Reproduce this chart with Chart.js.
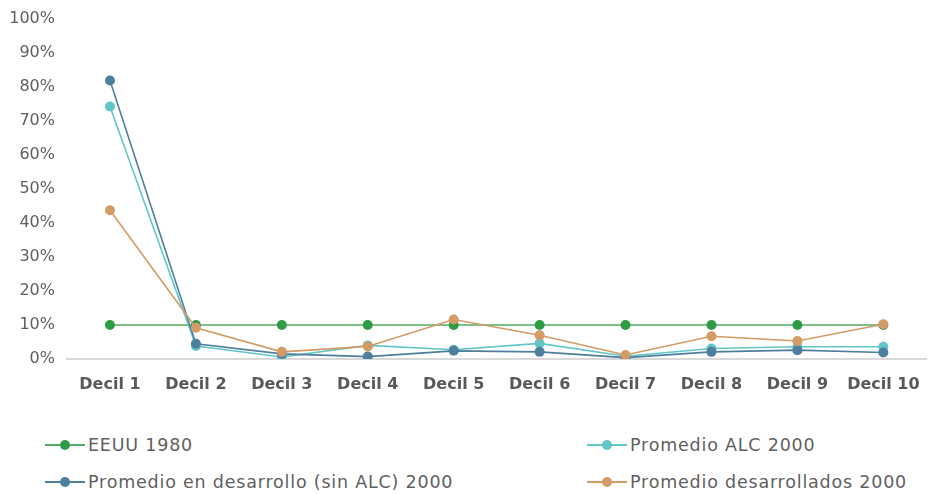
<!DOCTYPE html>
<html>
<head>
<meta charset="utf-8">
<script src="https://cdn.jsdelivr.net/npm/chart.js@4/dist/chart.umd.min.js"></script>
<style>
  html, body { margin: 0; padding: 0; background: #fff; }
  #wrap { position: relative; width: 936px; height: 494px; overflow: hidden; }
  #cv { position: absolute; left: 0; top: -3px; }
  .lg { position: absolute; height: 24px; display: flex; align-items: center;
        font-family: "DejaVu Sans", sans-serif; font-weight: normal; font-size: 17.5px; letter-spacing: 0.8px; color: #5f5f5f; white-space: nowrap; }
  .mk { position: relative; width: 40px; height: 24px; margin-right: 3px; }
  .mk .ln { position: absolute; left: 0; right: 0; top: 11px; height: 2px; }
  .mk .dt { position: absolute; left: 15px; top: 7px; width: 10px; height: 10px; border-radius: 50%; }
</style>
</head>
<body>
<div id="wrap">
  <canvas id="cv" width="936" height="423"></canvas>
  <div id="legend"></div>
</div>
<script>
const categories = ["Decil 1","Decil 2","Decil 3","Decil 4","Decil 5","Decil 6","Decil 7","Decil 8","Decil 9","Decil 10"];
const yTicks = [0,10,20,30,40,50,60,70,80,90,100];
const seriesNames = ["EEUU 1980","Promedio ALC 2000","Promedio en desarrollo (sin ALC) 2000","Promedio desarrollados 2000"];
const eeuu1980 = [10,10,10,10,10,10,10,10,10,10];
const alc2000 = [74.2,3.8,0.6,4.0,2.7,4.6,0.8,3.1,3.6,3.6];
const enDesarrollo2000 = [81.8,4.5,1.5,0.7,2.4,2.1,0.4,2.1,2.6,1.9];
const desarrollados2000 = [43.7,9.2,2.1,3.7,11.6,7.0,1.2,6.7,5.3,10.2];

const lineColors = ["#52ad62","#62c6c8","#4e7f9e","#d39b65"];
const dotColors = ["#2e9b45","#62c6c8","#4e7f9e","#d39b65"];
const seriesData = [eeuu1980, alc2000, enDesarrollo2000, desarrollados2000];
const drawOrder = [4,3,2,1];

const datasets = seriesNames.map((n,i)=>({
  label: n,
  data: seriesData[i],
  borderColor: lineColors[i],
  backgroundColor: dotColors[i],
  pointBackgroundColor: dotColors[i],
  pointBorderColor: dotColors[i],
  pointRadius: 5,
  pointBorderWidth: 0,
  borderWidth: 1.6,
  tension: 0,
  order: drawOrder[i]
}));

new Chart(document.getElementById('cv'), {
  type: 'line',
  data: { labels: categories, datasets },
  options: {
    responsive: false,
    animation: false,
    layout: { padding: { left: 0, right: 9, top: 14, bottom: 0 } },
    plugins: { legend: { display: false }, tooltip: { enabled: false } },
    scales: {
      x: {
        offset: true,
        grid: { display: false, drawTicks: false },
        border: { display: true, color: '#d9d9d9', width: 2 },
        ticks: { color: '#595959', padding: 16, font: { family: 'DejaVu Sans', size: 16, weight: 'bold' }, maxRotation: 0, autoSkip: false },
        afterFit: (s) => { s.height = 61; }
      },
      y: {
        min: 0, max: 100,
        afterBuildTicks: (s) => { s.ticks = yTicks.map(v => ({ value: v })); },
        grid: { display: false, drawTicks: false },
        border: { display: false },
        ticks: { color: '#5f5f5f', padding: 12, font: { family: 'DejaVu Sans', size: 16 }, callback: (v) => v + '%' },
        afterFit: (s) => { s.width = 67; }
      }
    }
  }
});

const legendPos = [[45,433],[587,433],[45,470],[587,470]];
const lg = document.getElementById('legend');
seriesNames.forEach((n,i)=>{
  const d = document.createElement('div');
  d.className = 'lg';
  d.style.left = legendPos[i][0] + 'px';
  d.style.top = legendPos[i][1] + 'px';
  d.innerHTML = '<div class="mk"><div class="ln" style="background:'+lineColors[i]+'"></div><div class="dt" style="background:'+dotColors[i]+'"></div></div>';
  const t = document.createElement('span');
  t.textContent = n;
  d.appendChild(t);
  lg.appendChild(d);
});
</script>
</body>
</html>
